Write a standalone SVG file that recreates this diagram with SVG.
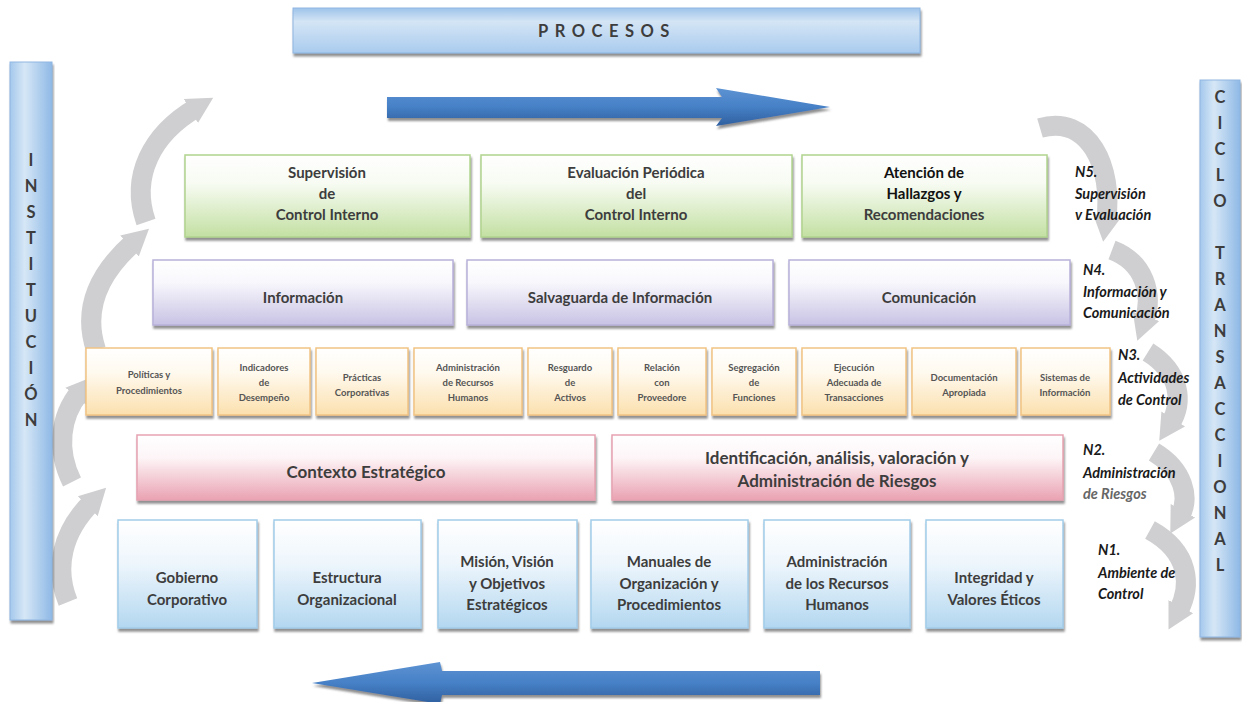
<svg xmlns="http://www.w3.org/2000/svg" width="1243" height="702" viewBox="0 0 1243 702">
<defs>
<filter id="sh" x="-5%" y="-10%" width="110%" height="130%"><feDropShadow dx="1" dy="3" stdDeviation="0.8" flood-color="#555" flood-opacity="0.65"/></filter>
<linearGradient id="gGreen" x1="0" y1="0" x2="0" y2="1"><stop offset="0" stop-color="#ffffff"/><stop offset="0.35" stop-color="#f7fbf2"/><stop offset="1" stop-color="#c3e0a2"/></linearGradient>
<linearGradient id="gPurple" x1="0" y1="0" x2="0" y2="1"><stop offset="0" stop-color="#ffffff"/><stop offset="0.35" stop-color="#f8f7fc"/><stop offset="1" stop-color="#c8c2e4"/></linearGradient>
<linearGradient id="gOrange" x1="0" y1="0" x2="0" y2="1"><stop offset="0" stop-color="#ffffff"/><stop offset="0.35" stop-color="#fffaf0"/><stop offset="1" stop-color="#fbe0ae"/></linearGradient>
<linearGradient id="gPink" x1="0" y1="0" x2="0" y2="1"><stop offset="0" stop-color="#ffffff"/><stop offset="0.35" stop-color="#fdf5f7"/><stop offset="1" stop-color="#eaa2b2"/></linearGradient>
<linearGradient id="gBlue" x1="0" y1="0" x2="0" y2="1"><stop offset="0" stop-color="#ffffff"/><stop offset="0.4" stop-color="#eef6fc"/><stop offset="1" stop-color="#b3d7f0"/></linearGradient>
<linearGradient id="gBarH" x1="0" y1="0" x2="0" y2="1"><stop offset="0" stop-color="#9ec3ea"/><stop offset="0.3" stop-color="#d4e5f5"/><stop offset="1" stop-color="#a9cbee"/></linearGradient>
<linearGradient id="gBarV" x1="0" y1="0" x2="1" y2="0"><stop offset="0" stop-color="#a4c8ec"/><stop offset="0.35" stop-color="#d6e7f6"/><stop offset="1" stop-color="#8fb9e6"/></linearGradient>
<linearGradient id="gArrow" x1="0" y1="0" x2="0" y2="1"><stop offset="0" stop-color="#5d93d3"/><stop offset="0.5" stop-color="#4680c6"/><stop offset="1" stop-color="#2f5f9e"/></linearGradient>
<marker id="gh" markerUnits="userSpaceOnUse" markerWidth="34" markerHeight="34" refX="6" refY="17" orient="auto"><path d="M0,3 L26,17 L0,31 Z" fill="#cfcfd1"/></marker>
<style>
.t{font-family:Lato,"Liberation Sans",sans-serif;font-weight:bold;fill:#3d3d3d;text-anchor:middle}
.s{font-size:15px}
.xs{font-size:9.5px;fill:#555}
.m{font-size:17px}
.lab{font-family:Lato,"Liberation Sans",sans-serif;font-weight:bold;font-style:italic;font-size:14.5px;fill:#1a1a1a}
.let{font-family:Lato,"Liberation Sans",sans-serif;font-weight:bold;font-size:16.5px;fill:#3d3d3d;text-anchor:middle}
.sw{fill:none;stroke:#cfcfd1;stroke-width:20;marker-end:url(#gh)}
.b{filter:url(#sh)}
.bg{fill:url(#gGreen);stroke:#b1d48f;stroke-width:1.5}
.bp{fill:url(#gPurple);stroke:#b9b1da;stroke-width:1.5}
.bo{fill:url(#gOrange);stroke:#f2c383;stroke-width:1.5}
.bk{fill:url(#gPink);stroke:#e6a3b1;stroke-width:1.5}
.bb{fill:url(#gBlue);stroke:#a3cdea;stroke-width:1.5}
</style>
</defs>
<rect width="1243" height="702" fill="#ffffff"/>

<g id="connectors">
<path class="sw" d="M68,602 C54,568 62,532 92,502"/>
<path class="sw" d="M72,482 C56,450 60,416 80,392"/>
<path class="sw" d="M96,350 C82,308 100,272 134,242"/>
<path class="sw" d="M146,222 C130,176 152,134 196,108"/>
<path class="sw" d="M1040,128 C1088,114 1114,166 1106,222"/>
<path class="sw" d="M1112,250 C1144,262 1154,294 1144,322"/>
<path class="sw" d="M1148,352 C1180,372 1184,402 1170,424"/>
<path class="sw" d="M1154,452 C1184,470 1190,498 1180,516"/>
<path class="sw" d="M1150,530 C1190,552 1192,586 1178,612"/>
<path id="arrowTop" d="M387,97 L722,97 L716,88 L830,107 L716,126 L722,118 L387,118 Z" fill="url(#gArrow)" filter="url(#sh)"/>
<path id="arrowBottom" d="M820,671 L442,671 L440,662 L312,683 L440,704 L442,695 L820,695 Z" fill="url(#gArrow)" filter="url(#sh)"/>
</g>

<g id="procesos">
<rect class="b" x="293" y="8" width="627" height="45" fill="url(#gBarH)" stroke="#8fb6e2"/>
<text class="let" x="607" y="37" style="letter-spacing:6.5px">PROCESOS</text>
</g>

<g id="institucion">
<rect class="b" x="10" y="62" width="42" height="558" fill="url(#gBarV)" stroke="#8fb6e2"/>
<text class="let" x="31" y="166">I</text>
<text class="let" x="31" y="192">N</text>
<text class="let" x="31" y="218">S</text>
<text class="let" x="31" y="244">T</text>
<text class="let" x="31" y="270">I</text>
<text class="let" x="31" y="296">T</text>
<text class="let" x="31" y="322">U</text>
<text class="let" x="31" y="348">C</text>
<text class="let" x="31" y="374">I</text>
<text class="let" x="31" y="400">Ó</text>
<text class="let" x="31" y="426">N</text>
</g>

<g id="ciclo">
<rect class="b" x="1200" y="80" width="40" height="557" fill="url(#gBarV)" stroke="#8fb6e2"/>
<text class="let" x="1220" y="103">C</text>
<text class="let" x="1220" y="129">I</text>
<text class="let" x="1220" y="155">C</text>
<text class="let" x="1220" y="181">L</text>
<text class="let" x="1220" y="207">O</text>
<text class="let" x="1220" y="259">T</text>
<text class="let" x="1220" y="285">R</text>
<text class="let" x="1220" y="311">A</text>
<text class="let" x="1220" y="337">N</text>
<text class="let" x="1220" y="363">S</text>
<text class="let" x="1220" y="389">A</text>
<text class="let" x="1220" y="415">C</text>
<text class="let" x="1220" y="441">C</text>
<text class="let" x="1220" y="467">I</text>
<text class="let" x="1220" y="493">O</text>
<text class="let" x="1220" y="519">N</text>
<text class="let" x="1220" y="545">A</text>
<text class="let" x="1220" y="571">L</text>
</g>

<g id="n5-supervision"><rect class="b bg" x="185" y="155" width="285" height="82"/>
<text class="t s" x="327" y="178">Supervisión</text><text class="t s" x="327" y="199">de</text><text class="t s" x="327" y="220">Control Interno</text></g>
<g id="n5-evaluacion"><rect class="b bg" x="481" y="155" width="311" height="82"/>
<text class="t s" x="636" y="178">Evaluación Periódica</text><text class="t s" x="636" y="199">del</text><text class="t s" x="636" y="220">Control Interno</text></g>
<g id="n5-atencion"><rect class="b bg" x="802" y="155" width="245" height="82"/>
<text class="t s" x="924" y="178" style="fill:#111">Atención de</text><text class="t s" x="924" y="199" style="fill:#111">Hallazgos y</text><text class="t s" x="924" y="220">Recomendaciones</text></g>
<g id="n5-label"><text class="lab" x="1075" y="177">N5.</text><text class="lab" x="1075" y="199">Supervisión</text><text class="lab" x="1075" y="220">v Evaluación</text></g>

<g id="n4-informacion"><rect class="b bp" x="153" y="260" width="300" height="65"/>
<text class="t s" x="303" y="303">Información</text></g>
<g id="n4-salvaguarda"><rect class="b bp" x="467" y="260" width="306" height="65"/>
<text class="t s" x="620" y="303">Salvaguarda de Información</text></g>
<g id="n4-comunicacion"><rect class="b bp" x="789" y="260" width="281" height="65"/>
<text class="t s" x="929" y="303">Comunicación</text></g>
<g id="n4-label"><text class="lab" x="1083" y="275">N4.</text><text class="lab" x="1083" y="297">Información y</text><text class="lab" x="1083" y="318">Comunicación</text></g>

<g id="n3-politicas"><rect class="b bo" x="86" y="348" width="126" height="67"/>
<text class="t xs" x="149" y="378">Políticas  y</text><text class="t xs" x="149" y="394">Procedimientos</text></g>
<g id="n3-indicadores"><rect class="b bo" x="218" y="348" width="92" height="67"/>
<text class="t xs" x="264" y="371">Indicadores</text><text class="t xs" x="264" y="386">de</text><text class="t xs" x="264" y="401">Desempeño</text></g>
<g id="n3-practicas"><rect class="b bo" x="316" y="348" width="92" height="67"/>
<text class="t xs" x="362" y="381">Prácticas</text><text class="t xs" x="362" y="396">Corporativas</text></g>
<g id="n3-admin"><rect class="b bo" x="414" y="348" width="108" height="67"/>
<text class="t xs" x="468" y="371">Administración</text><text class="t xs" x="468" y="386">de Recursos</text><text class="t xs" x="468" y="401">Humanos</text></g>
<g id="n3-resguardo"><rect class="b bo" x="528" y="348" width="84" height="67"/>
<text class="t xs" x="570" y="371">Resguardo</text><text class="t xs" x="570" y="386">de</text><text class="t xs" x="570" y="401">Activos</text></g>
<g id="n3-relacion"><rect class="b bo" x="618" y="348" width="88" height="67"/>
<text class="t xs" x="662" y="371">Relación</text><text class="t xs" x="662" y="386">con</text><text class="t xs" x="662" y="401">Proveedore</text></g>
<g id="n3-segregacion"><rect class="b bo" x="712" y="348" width="84" height="67"/>
<text class="t xs" x="754" y="371">Segregación</text><text class="t xs" x="754" y="386">de</text><text class="t xs" x="754" y="401">Funciones</text></g>
<g id="n3-ejecucion"><rect class="b bo" x="802" y="348" width="104" height="67"/>
<text class="t xs" x="854" y="371">Ejecución</text><text class="t xs" x="854" y="386">Adecuada de</text><text class="t xs" x="854" y="401">Transacciones</text></g>
<g id="n3-documentacion"><rect class="b bo" x="912" y="348" width="104" height="67"/>
<text class="t xs" x="964" y="381">Documentación</text><text class="t xs" x="964" y="396">Apropiada</text></g>
<g id="n3-sistemas"><rect class="b bo" x="1021" y="348" width="89" height="67"/>
<text class="t xs" x="1065" y="381">Sistemas de</text><text class="t xs" x="1065" y="396">Información</text></g>
<g id="n3-label"><text class="lab" x="1118" y="360">N3.</text><text class="lab" x="1118" y="383">Actividades</text><text class="lab" x="1118" y="405">de Control</text></g>

<g id="n2-contexto"><rect class="b bk" x="137" y="435" width="458" height="65"/>
<text class="t m" x="366" y="478">Contexto Estratégico</text></g>
<g id="n2-identificacion"><rect class="b bk" x="612" y="435" width="451" height="65"/>
<text class="t m" x="837" y="464">Identificación, análisis, valoración y</text><text class="t m" x="837" y="487">Administración de Riesgos</text></g>
<g id="n2-label"><text class="lab" x="1083" y="455">N2.</text><text class="lab" x="1083" y="478">Administración</text><text class="lab" x="1083" y="499" style="fill:#666">de Riesgos</text></g>

<g id="n1-gobierno"><rect class="b bb" x="118" y="520" width="139" height="108"/>
<text class="t s" x="187" y="583">Gobierno</text><text class="t s" x="187" y="605">Corporativo</text></g>
<g id="n1-estructura"><rect class="b bb" x="274" y="520" width="147" height="108"/>
<text class="t s" x="347" y="583">Estructura</text><text class="t s" x="347" y="605">Organizacional</text></g>
<g id="n1-mision"><rect class="b bb" x="438" y="520" width="139" height="108"/>
<text class="t s" x="507" y="567">Misión, Visión</text><text class="t s" x="507" y="589">y Objetivos</text><text class="t s" x="507" y="610">Estratégicos</text></g>
<g id="n1-manuales"><rect class="b bb" x="591" y="520" width="157" height="108"/>
<text class="t s" x="669" y="567">Manuales de</text><text class="t s" x="669" y="589">Organización y</text><text class="t s" x="669" y="610">Procedimientos</text></g>
<g id="n1-admin"><rect class="b bb" x="764" y="520" width="146" height="108"/>
<text class="t s" x="837" y="567">Administración</text><text class="t s" x="837" y="589">de los Recursos</text><text class="t s" x="837" y="610">Humanos</text></g>
<g id="n1-integridad"><rect class="b bb" x="926" y="520" width="137" height="108"/>
<text class="t s" x="994" y="583">Integridad y</text><text class="t s" x="994" y="605">Valores Éticos</text></g>
<g id="n1-label"><text class="lab" x="1098" y="555">N1.</text><text class="lab" x="1098" y="578">Ambiente de</text><text class="lab" x="1098" y="599">Control</text></g>
</svg>
